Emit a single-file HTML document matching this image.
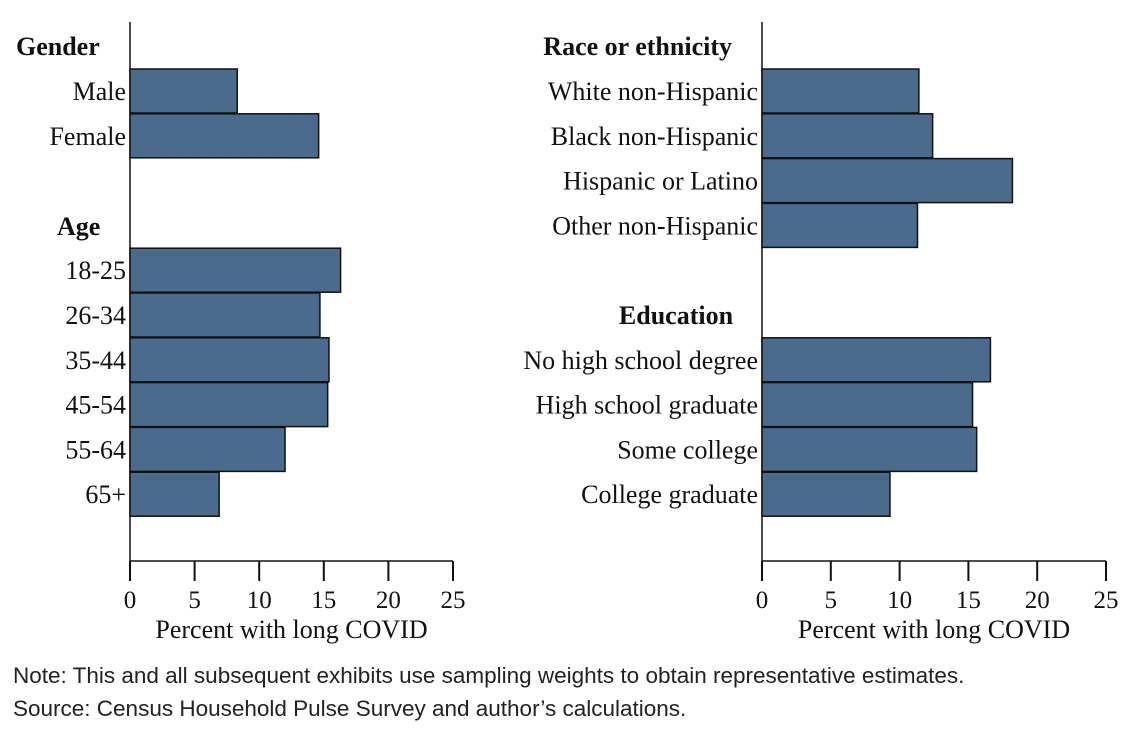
<!DOCTYPE html>
<html><head><meta charset="utf-8"><style>
body{margin:0;background:#fff;}
svg text{font-family:"Liberation Serif",serif;fill:#111;}
</style></head><body>
<svg id="chart" width="1138" height="726">
<text x="13" y="683" style="font-family:'Liberation Sans',sans-serif;font-size:22.5px;fill:#222">Note: This and all subsequent exhibits use sampling weights to obtain representative estimates.</text>
<text x="13" y="716" style="font-family:'Liberation Sans',sans-serif;font-size:22.5px;fill:#222">Source: Census Household Pulse Survey and author’s calculations.</text>
</svg>
<script>
const leftCategories=["Male","Female","18-25","26-34","35-44","45-54","55-64","65+"];
const leftValues=[8.3,14.6,16.3,14.7,15.4,15.3,12.0,6.9];
const leftSlots=[0,1,4,5,6,7,8,9];
const leftHeaders=["Gender","Age"];
const rightCategories=["White non-Hispanic","Black non-Hispanic","Hispanic or Latino","Other non-Hispanic","No high school degree","High school graduate","Some college","College graduate"];
const rightValues=[11.4,12.4,18.2,11.3,16.6,15.3,15.6,9.3];
const rightSlots=[0,1,2,3,6,7,8,9];
const rightHeaders=["Race or ethnicity","Education"];
const ticks=[0,5,10,15,20,25];
const NS="http://www.w3.org/2000/svg";
const svg=document.getElementById('chart');
function mk(t,a){const e=document.createElementNS(NS,t);for(const k in a)e.setAttribute(k,a[k]);svg.appendChild(e);return e;}
function panel(x0,x25,cats,vals,slots,name){
  const sx=v=>x0+(x25-x0)*v/25;
  const sy=s=>69+s*44.8;
  const ax=mk('line',{x1:x0,y1:22,x2:x0,y2:562,stroke:'#111','stroke-width':1.5});
  
  
  const xa=mk('line',{x1:x0,y1:561,x2:x25,y2:561,stroke:'#111','stroke-width':1.5});
  
  
  ticks.forEach(t=>{
    const l=mk('line',{x1:sx(t),y1:561,x2:sx(t),y2:581,stroke:'#111','stroke-width':2});
    
    
    const tx=mk('text',{x:sx(t),y:608,'text-anchor':'middle','font-size':25});
    tx.textContent=t;
    
    
  });
  const at=mk('text',{x:(x0+x25)/2,y:638,'text-anchor':'middle','font-size':26});
  at.textContent="Percent with long COVID";
  
  
  cats.forEach((c,i)=>{
    const y=sy(slots[i]);
    const r=mk('rect',{x:x0,y:y,width:sx(vals[i])-x0,height:44,fill:'#4a6b8c',stroke:'#111','stroke-width':1.5});
    
    
    const t=mk('text',{x:x0-4,y:y+31,'text-anchor':'end','font-size':26});
    t.textContent=c;
    
    
  });
}
panel(130,453,leftCategories,leftValues,leftSlots,'left');
panel(762,1106,rightCategories,rightValues,rightSlots,'right');
function hdr(txt,x,y,anchor){
  const t=mk('text',{x:x,y:y,'text-anchor':anchor,'font-size':26,'font-weight':'bold'});
  t.textContent=txt;
  
  
}
hdr(leftHeaders[0],16,55,'start');
hdr(leftHeaders[1],57,235,'start');
hdr(rightHeaders[0],732,55,'end');
hdr(rightHeaders[1],676,324,'middle');
</script>
</body></html>
